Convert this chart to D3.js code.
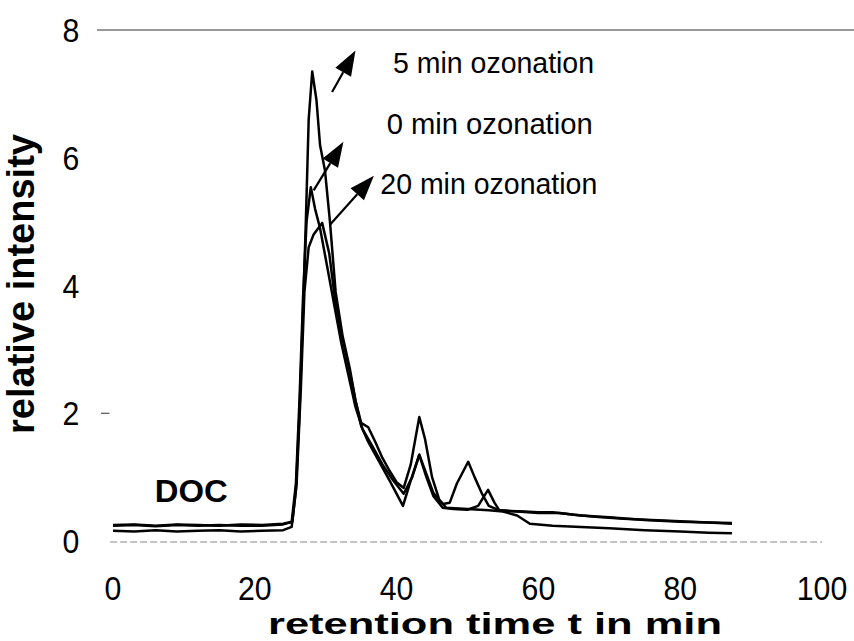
<!DOCTYPE html>
<html>
<head>
<meta charset="utf-8">
<script src="https://cdn.jsdelivr.net/npm/d3@7"></script>
<style>
  body { margin: 0; background: #fff; }
  svg { display: block; }
  text { font-family: "Liberation Sans", Arial, sans-serif; fill: #000; }
  .tick-num { font-size: 34px; }
</style>
</head>
<body>
<svg></svg>
<script>
const size = {w: 854, h: 641};
const svg = d3.select('svg');

svg.attr('width', size.w)
    .attr('height', size.h);

// chromatogram traces, [retention time (min), relative intensity]
const ozon0 = [[0,0.25],[3,0.26],[6,0.24],[9,0.26],[12,0.25],[15,0.24],[18,0.26],[21,0.25],[24,0.27],
    [25.2,0.3],[25.8,0.9],[26.3,2.2],[26.8,3.8],[27.3,5.0],[27.9,5.54],[28.5,5.2],[29.2,4.9],[30.2,4.3],
    [31.2,3.7],[32.2,3.1],[33.2,2.6],[34.2,2.1],[35.2,1.75],[36.5,1.5],[38,1.2],[39.5,0.95],[41,0.74],
    [42.2,1.0],[43.2,1.35],[44.2,1.05],[45.2,0.75],[46.5,0.58],[47.5,0.6],[48.5,0.9],[50.1,1.24],[51,1.0],
    [52,0.75],[53,0.55],[54.5,0.48],[56,0.47],[58,0.46],[60,0.45],[62,0.45],[65,0.41],[68,0.38],[72,0.35],
    [76,0.33],[80,0.31],[84,0.29],[87.3,0.28]];
const ozon5 = [[0,0.16],[3,0.15],[6,0.17],[9,0.15],[12,0.16],[15,0.17],[18,0.15],[21,0.16],[24,0.17],
    [25.2,0.22],[25.8,0.8],[26.3,2.0],[26.8,3.6],[27.2,5.0],[27.6,6.6],[28.1,7.35],[28.7,6.9],[29.2,6.2],
    [29.9,5.8],[30.6,5.0],[31.4,3.9],[32.4,3.2],[33.4,2.7],[34.2,2.2],[35,1.85],[36,1.78],[37,1.55],[38,1.3],
    [39,1.1],[40,0.92],[41,0.83],[42,1.2],[43.2,1.94],[44,1.6],[45,1.0],[46,0.65],[47,0.52],[50,0.5],
    [53,0.48],[55,0.46],[57,0.4],[58.8,0.27],[62,0.24],[66,0.22],[70,0.2],[75,0.17],[80,0.15],[84,0.13],
    [87.3,0.12]];
const ozon20 = [[0,0.24],[3,0.25],[6,0.23],[9,0.25],[12,0.24],[15,0.25],[18,0.24],[21,0.24],[24,0.26],
    [25.3,0.3],[25.9,0.9],[26.5,2.4],[27.0,3.9],[27.6,4.6],[28.3,4.8],[29.5,4.98],[30.5,4.5],[31.3,3.8],
    [32.3,3.2],[33.3,2.7],[34.2,2.2],[35,1.8],[36,1.55],[37.5,1.25],[39,0.95],[40.9,0.55],[42,0.95],
    [43.2,1.35],[44.2,1.0],[45.2,0.7],[46.5,0.52],[48,0.5],[50,0.49],[51.5,0.55],[52.9,0.8],[53.8,0.6],
    [54.5,0.48],[57,0.46],[60,0.44],[63,0.44],[66,0.4],[70,0.37],[75,0.33],[80,0.3],[84,0.29],[87.3,0.27]];

const xTicks = [0, 20, 40, 60, 80, 100];
const yTicks = [0, 2, 4, 6, 8];

// annotation labels and arrows, in data units
const labels = ['5 min ozonation', '0 min ozonation', '20 min ozonation'];
const labelPos = [[39.5, 7.33], [38.6, 6.37], [37.7, 5.43]];
const labelWidth = [201, 206, 217];
const arrows = [[[30.9, 7.03], [34.2, 7.68]], [[28.3, 5.49], [32.5, 6.25]], [[30.6, 4.95], [36.8, 5.72]]];

const x = d3.scaleLinear().domain([0, 100]).range([113, 822]);
const y = d3.scaleLinear().domain([0, 8]).range([541, 30]);

// frame: solid top line, faint dashed baseline
svg.append('line')
    .attr('x1', 97).attr('x2', size.w)
    .attr('y1', y(8)).attr('y2', y(8))
    .attr('stroke', '#333').attr('stroke-width', 1);
svg.append('line')
    .attr('x1', x(-0.4)).attr('x2', x(100))
    .attr('y1', y(0) + 1).attr('y2', y(0) + 1)
    .attr('stroke', '#888').attr('stroke-width', 1)
    .attr('stroke-dasharray', '7,3');
svg.append('line')
    .attr('x1', x(-1.7)).attr('x2', x(-0.5))
    .attr('y1', y(2)).attr('y2', y(2))
    .attr('stroke', '#333').attr('stroke-width', 1);

// tick numbers, slightly condensed like the original
svg.selectAll('text.ylab')
    .data(yTicks)
    .enter()
    .append('text')
    .attr('class', 'tick-num')
    .attr('transform', d => `translate(71,${y(d) + 12}) scale(0.89,1)`)
    .attr('text-anchor', 'middle')
    .text(d => d);

svg.selectAll('text.xlab')
    .data(xTicks)
    .enter()
    .append('text')
    .attr('class', 'tick-num')
    .attr('transform', d => `translate(${x(d)},600) scale(0.89,1)`)
    .attr('text-anchor', 'middle')
    .text(d => d);

svg.append('text')
    .attr('transform', 'translate(34,284) rotate(-90)')
    .attr('text-anchor', 'middle')
    .style('font-size', '38px')
    .style('font-weight', 'bold')
    .text('relative intensity');

svg.append('text')
    .attr('x', 268)
    .attr('y', 634)
    .attr('textLength', 454)
    .attr('lengthAdjust', 'spacingAndGlyphs')
    .style('font-size', '29px')
    .style('font-weight', 'bold')
    .text('retention time t in min');

// traces
let line = d3.line()
    .x(d => x(d[0]))
    .y(d => y(d[1]));

svg.selectAll('path.trace')
    .data([ozon0, ozon5, ozon20])
    .enter()
    .append('path')
    .attr('class', 'trace')
    .attr('d', line)
    .attr('fill', 'none')
    .attr('stroke', '#000')
    .attr('stroke-width', 2.5)
    .attr('stroke-linejoin', 'round');

svg.append('text')
    .attr('x', x(5.9))
    .attr('y', y(0.61))
    .attr('textLength', 73)
    .attr('lengthAdjust', 'spacingAndGlyphs')
    .style('font-size', '31px')
    .style('font-weight', 'bold')
    .text('DOC');

// arrows with filled heads
arrows.forEach(a => {
    let x1 = x(a[0][0]), y1 = y(a[0][1]);
    let x2 = x(a[1][0]), y2 = y(a[1][1]);
    let ang = Math.atan2(y2 - y1, x2 - x1);
    let len = 25, half = 9;
    let bx = x2 - len * Math.cos(ang), by = y2 - len * Math.sin(ang);
    svg.append('line')
        .attr('x1', x1).attr('y1', y1)
        .attr('x2', bx).attr('y2', by)
        .attr('stroke', '#000').attr('stroke-width', 2.2);
    let pts = [
        [x2, y2],
        [bx + half * Math.sin(ang), by - half * Math.cos(ang)],
        [bx - half * Math.sin(ang), by + half * Math.cos(ang)]
    ];
    svg.append('path')
        .attr('d', 'M' + pts.map(p => p.join(',')).join('L') + 'Z')
        .attr('fill', '#000');
});

svg.selectAll('text.note')
    .data(labels)
    .enter()
    .append('text')
    .attr('x', (d, i) => x(labelPos[i][0]))
    .attr('y', (d, i) => y(labelPos[i][1]))
    .attr('textLength', (d, i) => labelWidth[i])
    .attr('lengthAdjust', 'spacingAndGlyphs')
    .style('font-size', '30px')
    .text(d => d);
</script>
</body>
</html>
